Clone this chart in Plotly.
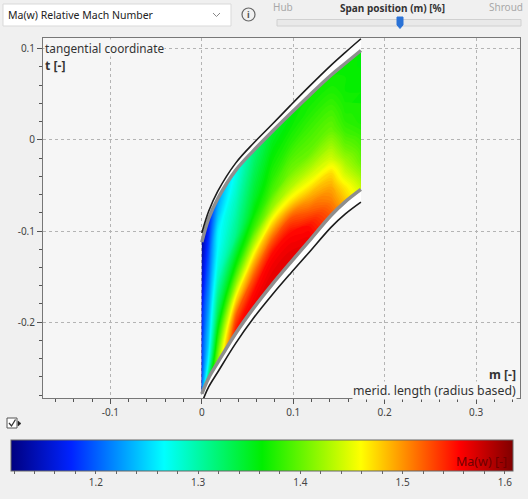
import plotly.graph_objects as go

# ---------------- data ----------------
m_sta = [0.0, 0.0075, 0.0175, 0.037, 0.057, 0.077, 0.097, 0.117, 0.1415, 0.157, 0.174]
s_sta = [0.0, 0.1, 0.2, 0.3, 0.4, 0.5, 0.6, 0.7, 0.8, 0.9, 1.0]

upper_gray = [-0.1122, -0.0863, -0.0644, -0.0335, -0.0113, 0.0091, 0.0288, 0.0481, 0.0710, 0.0839, 0.0979]
lower_gray = [-0.2785, -0.2611, -0.2441, -0.2123, -0.1840, -0.1585, -0.1346, -0.1113, -0.0827, -0.0678, -0.0544]
upper_black = [-0.1022, -0.0784, -0.0564, -0.0256, -0.0033, 0.0170, 0.0377, 0.0580, 0.0819, 0.0959, 0.1108]
lower_black = [-0.2884, -0.2710, -0.2546, -0.2232, -0.1949, -0.1699, -0.1465, -0.1238, -0.0957, -0.0812, -0.0683]

# Ma(w) at each m station, from lower wall (s=0) to upper wall (s=1)
mach_by_m = [
    [1.22, 1.20, 1.19, 1.19, 1.18, 1.18, 1.17, 1.16, 1.15, 1.14, 1.13],
    [1.32, 1.27, 1.25, 1.24, 1.23, 1.22, 1.21, 1.20, 1.19, 1.18, 1.17],
    [1.42, 1.39, 1.36, 1.33, 1.31, 1.29, 1.275, 1.265, 1.26, 1.24, 1.22],
    [1.55, 1.52, 1.47, 1.415, 1.37, 1.34, 1.31, 1.30, 1.29, 1.28, 1.27],
    [1.56, 1.55, 1.52, 1.48, 1.43, 1.385, 1.36, 1.345, 1.335, 1.325, 1.315],
    [1.565, 1.56, 1.55, 1.515, 1.47, 1.42, 1.39, 1.375, 1.365, 1.355, 1.345],
    [1.565, 1.56, 1.55, 1.52, 1.47, 1.43, 1.405, 1.39, 1.375, 1.365, 1.355],
    [1.56, 1.55, 1.52, 1.49, 1.455, 1.425, 1.40, 1.39, 1.38, 1.37, 1.365],
    [1.52, 1.505, 1.49, 1.47, 1.44, 1.42, 1.40, 1.39, 1.38, 1.37, 1.365],
    [1.48, 1.465, 1.44, 1.42, 1.40, 1.385, 1.375, 1.37, 1.365, 1.365, 1.365],
    [1.44, 1.42, 1.40, 1.39, 1.38, 1.37, 1.37, 1.365, 1.365, 1.36, 1.36],
]

x_tick_vals = [-0.1, 0.0, 0.1, 0.2, 0.3]
x_tick_text = ["-0.1", "0", "0.1", "0.2", "0.3"]
y_tick_vals = [-0.2, -0.1, 0.0, 0.1]
y_tick_text = ["-0.2", "-0.1", "0", "0.1"]
cb_min, cb_max = 1.117, 1.608
cb_major = [1.2, 1.3, 1.4, 1.5, 1.6]

# ---------------- layout helpers ----------------
W, H = 528, 499
ML, MR, MT, MB = 43, 8, 38, 101
PW, PH = W - ML - MR, H - MT - MB


def px(x):
    return (x - ML) / PW


def py(y):
    return (H - MB - y) / PH


def path(pts, close=False):
    s = "M " + " L ".join(f"{px(a):.5f},{py(b):.5f}" for a, b in pts)
    return s + (" Z" if close else "")


jet = [[0.0, "rgb(0,0,128)"], [0.12, "rgb(0,35,255)"], [0.305, "rgb(0,255,255)"],
       [0.5, "rgb(0,238,0)"], [0.697, "rgb(255,255,0)"], [0.894, "rgb(255,0,0)"],
       [1.0, "rgb(128,0,0)"]]

# carpet grid
X = [[m for m in m_sta] for s in s_sta]
Y = [[lo + s * (up - lo) for lo, up in zip(lower_gray, upper_gray)] for s in s_sta]
Z = [[mach_by_m[i][j] for i in range(len(m_sta))] for j in range(len(s_sta))]

hidden_ax = dict(showgrid=False, showline=False, showticklabels="none", startline=False,
                 endline=False, minorgridcount=0, smoothing=1, title=dict(text=""))

fig = go.Figure()
fig.add_trace(go.Carpet(a=m_sta, b=s_sta, x=X, y=Y, carpet="c1",
                        aaxis=hidden_ax, baxis=hidden_ax))
fig.add_trace(go.Contourcarpet(a=m_sta, b=s_sta, z=Z, carpet="c1", colorscale=jet,
                               zmin=cb_min, zmax=cb_max, zauto=False, autocontour=False,
                               contours=dict(start=cb_min, end=cb_max, size=0.004,
                                             coloring="fill", showlines=False),
                               line=dict(width=0), showscale=False))

# white gaps between blade contour (black) and passage wall (gray)
for blk, gry in ((upper_black, upper_gray), (lower_black, lower_gray)):
    fig.add_trace(go.Scatter(x=m_sta + m_sta[::-1], y=blk + gry[::-1], mode="lines",
                             fill="toself", fillcolor="white", line=dict(width=0),
                             hoverinfo="skip", showlegend=False))
for gry in (upper_gray, lower_gray):
    fig.add_trace(go.Scatter(x=m_sta, y=gry, mode="lines",
                             line=dict(color="#8e8e8e", width=3.5, shape="spline", smoothing=1),
                             hoverinfo="skip", showlegend=False))
for blk in (upper_black, lower_black):
    fig.add_trace(go.Scatter(x=m_sta, y=blk, mode="lines",
                             line=dict(color="#1c1c1c", width=1.6, shape="spline", smoothing=1),
                             hoverinfo="skip", showlegend=False))

cb_ticks = [round(1.12 + 0.02 * i, 2) for i in range(25)]
cb_text = [(f"{v:.1f}" if any(abs(v - t) < 1e-9 for t in cb_major) else "") for v in cb_ticks]
fig.add_trace(go.Scatter(
    x=[-1, -1], y=[-1, -1], mode="markers", hoverinfo="skip", showlegend=False,
    marker=dict(color=[cb_min, cb_max], colorscale=jet, cmin=cb_min, cmax=cb_max,
                showscale=True,
                colorbar=dict(orientation="h", x=px(11), xanchor="left", y=py(440),
                              yanchor="top", len=502, lenmode="pixels", thickness=31,
                              thicknessmode="pixels", xpad=0, ypad=0, outlinewidth=1,
                              outlinecolor="#666", tickmode="array", tickvals=cb_ticks,
                              ticktext=cb_text, ticks="outside", ticklen=3,
                              tickcolor="#666", tickfont=dict(size=10, color="#444")))))

axis_common = dict(ticks="outside", ticklen=5, tickcolor="#555", showgrid=True,
                   gridcolor="#b4b4b4", griddash="dot", gridwidth=1, zeroline=False,
                   showline=True, linecolor="#777", mirror=True,
                   tickfont=dict(size=10, color="#444"),
                   minor=dict(tickmode="linear", tick0=0, dtick=0.02, ticks="outside",
                              ticklen=3, tickcolor="#555", showgrid=False))
fig.update_xaxes(range=[-0.1737, 0.3480], tickmode="array", tickvals=x_tick_vals,
                 ticktext=x_tick_text, **axis_common)
fig.update_yaxes(range=[-0.2831, 0.1116], tickmode="array", tickvals=y_tick_vals,
                 ticktext=y_tick_text, **axis_common)

PLOT_BG = "#f6f6f6"
ann = []


def text(x, y, t, anchor="left", size=12, color="#333", bg=None):
    d = dict(x=px(x), y=py(y), xref="paper", yref="paper", text=t, showarrow=False,
             xanchor=anchor, yanchor="middle", font=dict(size=size, color=color))
    if bg:
        d.update(bgcolor=bg, borderpad=0)
    ann.append(d)


text(44, 48, "tangential coordinate", size=11.8, bg=PLOT_BG)
text(44, 66, "<b>t [-]</b>", size=12.2, bg=PLOT_BG)
text(517, 374, "<b>m [-]</b>", anchor="right", size=12.2, bg=PLOT_BG)
text(517, 390, "merid. length (radius based)", anchor="right", size=12.3, bg=PLOT_BG)
text(509, 461, "Ma(w) [-]", anchor="right", size=12.5, color="#6e0000")
text(6, 15, "Ma(w) Relative Mach Number", size=10.5, color="#222")
text(248.5, 14.5, "<b>i</b>", anchor="center", size=9, color="#555")
text(271, 7, "Hub", size=10, color="#a8a8a8")
text(392, 8, "<b>Span position (m) [%]</b>", anchor="center", size=10, color="#333")
text(525, 7, "Shroud", anchor="right", size=10, color="#a8a8a8")

shapes = [
    dict(type="rect", xref="paper", yref="paper", x0=px(3), x1=px(231), y0=py(26), y1=py(4),
         fillcolor="white", line=dict(color="#d9d9d9", width=1), layer="below"),
    dict(type="path", xref="paper", yref="paper", path=path([(213, 13), (216.5, 16.5), (220, 13)]),
         line=dict(color="#888", width=1)),
    dict(type="circle", xref="paper", yref="paper", x0=px(242), x1=px(255), y0=py(21), y1=py(8),
         line=dict(color="#666", width=1.2)),
    dict(type="rect", xref="paper", yref="paper", x0=px(277), x1=px(521), y0=py(26), y1=py(19.5),
         fillcolor="#e9e9e9", line=dict(color="#d0d0d0", width=1)),
    dict(type="path", xref="paper", yref="paper",
         path=path([(397, 17), (403, 17), (403, 25), (400, 28.5), (397, 25)], close=True),
         fillcolor="#2a72d6", line=dict(color="#2a72d6", width=1)),
    dict(type="rect", xref="paper", yref="paper", x0=px(7), x1=px(17), y0=py(428), y1=py(418),
         fillcolor="white", line=dict(color="#555", width=1)),
    dict(type="path", xref="paper", yref="paper", path=path([(9, 423), (11.5, 426), (15.5, 419.5)]),
         line=dict(color="#333", width=1.3)),
    dict(type="path", xref="paper", yref="paper", path=path([(18, 421), (21, 423.5), (18, 426)], close=True),
         fillcolor="#222", line=dict(color="#222", width=0.5)),
]

fig.update_layout(width=W, height=H, margin=dict(l=ML, r=MR, t=MT, b=MB, pad=0),
                  paper_bgcolor="#f0f0f0", plot_bgcolor=PLOT_BG,
                  font=dict(family="Noto Sans, Open Sans, sans-serif", color="#444"),
                  showlegend=False, annotations=ann, shapes=shapes)

fig.write_html("out.html", config={"displayModeBar": False},
               post_script="document.body.style.margin='0';document.body.style.overflow='hidden';")
